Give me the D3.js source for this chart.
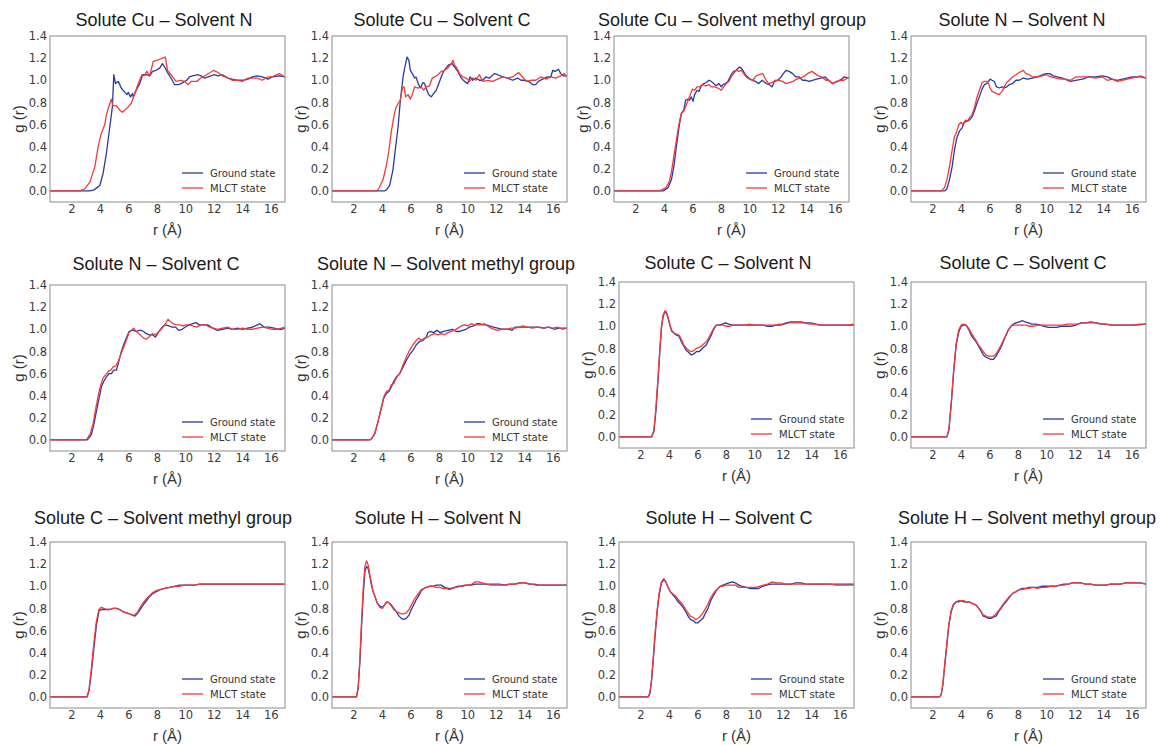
<!DOCTYPE html>
<html>
<head>
<meta charset="utf-8">
<script src="https://cdn.jsdelivr.net/npm/d3@7"></script>
<style>
  body { margin: 0; background: #ffffff; }
  svg { display: block; }
</style>
</head>
<body>
<svg id="fig" width="1162" height="745"></svg>
<script>
// ---- Radial distribution functions g(r), r in Å: [r, g] pairs ----

// Solute Cu – Solvent N
const cuN_ground = [[0.5,0],[3.3,0],[3.6,0.01],[3.8,0.03],[4.0,0.05],[4.23,0.16],[4.46,0.34],[4.7,0.58],[4.88,0.76],[4.98,1.05],[5.1,0.97],[5.3,0.99],[5.5,0.93],[5.7,0.9],[5.9,0.87],[6.0,0.89],[6.15,0.85],[6.3,0.88],[6.35,0.85],[6.55,0.91],[6.8,0.97],[7.0,1.05],[7.3,1.05],[7.5,1.04],[7.7,1.08],[7.95,1.09],[8.2,1.11],[8.4,1.15],[8.55,1.12],[8.8,1.06],[9.0,1.02],[9.25,0.96],[9.5,0.96],[9.7,0.97],[10.1,1.0],[10.3,1.03],[10.5,1.04],[10.9,1.05],[11.1,1.04],[11.35,1.02],[11.6,1.03],[12.0,1.05],[12.3,1.04],[12.6,1.05],[13.0,1.02],[13.3,1.01],[13.7,1.0],[14.0,1.0],[14.4,1.01],[14.7,1.03],[15.05,1.04],[15.4,1.03],[15.8,1.01],[16.1,1.03],[16.6,1.04],[17.0,1.03]];
const cuN_mlct = [[0.5,0],[2.6,0],[2.95,0.02],[3.3,0.08],[3.65,0.22],[3.88,0.4],[4.1,0.52],[4.35,0.6],[4.46,0.69],[4.65,0.77],[4.8,0.83],[4.92,0.77],[5.15,0.77],[5.4,0.73],[5.6,0.71],[5.75,0.73],[6.0,0.76],[6.2,0.79],[6.45,0.88],[6.7,0.97],[6.95,1.05],[7.1,1.04],[7.3,1.08],[7.5,1.04],[7.75,1.17],[8.0,1.18],[8.2,1.19],[8.4,1.2],[8.6,1.21],[8.75,1.09],[9.0,1.05],[9.35,0.99],[9.7,1.0],[9.95,0.99],[10.2,0.96],[10.4,0.99],[10.8,0.99],[11.1,1.02],[11.5,1.05],[12.0,1.09],[12.3,1.07],[12.6,1.04],[13.0,1.02],[13.3,1.0],[13.7,1.0],[14.0,0.99],[14.4,1.02],[14.7,1.02],[15.05,1.02],[15.4,1.0],[15.8,1.03],[16.1,1.03],[16.6,1.06],[17.0,1.03]];

// Solute Cu – Solvent C
const cuC_ground = [[0.5,0],[4.2,0],[4.32,0.01],[4.55,0.05],[4.78,0.19],[4.97,0.4],[5.14,0.58],[5.3,0.82],[5.49,1.03],[5.6,1.11],[5.77,1.21],[5.9,1.18],[6.0,1.09],[6.14,1.06],[6.3,1.02],[6.4,1.03],[6.58,0.96],[6.72,0.93],[6.88,0.98],[7.0,0.97],[7.1,0.93],[7.3,0.87],[7.47,0.85],[7.63,0.88],[7.82,0.91],[8.0,0.97],[8.17,1.03],[8.33,1.08],[8.5,1.11],[8.7,1.14],[8.94,1.15],[9.1,1.12],[9.33,1.08],[9.57,1.02],[9.8,0.99],[10.03,0.97],[10.2,1.03],[10.38,1.0],[10.6,1.02],[10.85,1.0],[11.08,1.0],[11.3,1.03],[11.55,1.02],[11.9,1.06],[12.13,1.05],[12.5,1.03],[12.83,1.02],[13.18,1.0],[13.53,1.02],[13.77,1.0],[14.0,1.0],[14.3,0.99],[14.6,0.96],[14.8,0.96],[15.0,0.99],[15.28,1.01],[15.63,1.03],[15.86,1.03],[16.0,1.09],[16.17,1.08],[16.4,1.1],[16.56,1.06],[16.73,1.04],[17.0,1.04]];
const cuC_mlct = [[0.5,0],[3.67,0],[3.86,0.04],[4.1,0.11],[4.32,0.23],[4.5,0.37],[4.67,0.54],[4.84,0.67],[4.98,0.75],[5.14,0.79],[5.3,0.82],[5.44,0.93],[5.56,0.94],[5.67,0.85],[5.84,0.87],[6.0,0.83],[6.14,0.87],[6.3,0.94],[6.54,0.93],[6.77,0.94],[6.93,0.91],[7.12,0.94],[7.35,0.95],[7.54,1.02],[7.7,1.03],[7.94,1.05],[8.17,1.08],[8.4,1.09],[8.64,1.11],[8.87,1.15],[9.0,1.18],[9.1,1.14],[9.27,1.11],[9.45,1.06],[9.68,1.03],[9.92,1.02],[10.15,0.99],[10.38,1.02],[10.6,1.0],[10.85,1.05],[11.08,0.99],[11.43,1.0],[11.78,0.99],[12.13,1.01],[12.5,1.03],[12.83,1.02],[13.18,1.03],[13.6,1.07],[13.88,1.03],[14.16,0.99],[14.46,1.0],[14.8,1.0],[15.17,1.03],[15.52,1.01],[15.86,1.03],[16.2,1.02],[16.56,1.04],[16.8,1.06],[17.0,1.03]];

// Solute Cu – Solvent methyl group
const cuMe_ground = [[0.5,0],[3.95,0],[4.3,0.03],[4.53,0.1],[4.7,0.22],[4.88,0.4],[5.07,0.58],[5.23,0.7],[5.4,0.73],[5.53,0.82],[5.7,0.83],[5.81,0.82],[5.93,0.85],[6.05,0.81],[6.16,0.87],[6.33,0.91],[6.47,0.9],[6.63,0.95],[6.8,0.97],[6.98,0.98],[7.17,1.0],[7.33,0.99],[7.5,0.97],[7.68,0.95],[7.87,0.97],[8.03,0.94],[8.15,0.96],[8.33,0.97],[8.5,0.99],[8.73,1.05],[8.9,1.08],[9.08,1.09],[9.31,1.12],[9.43,1.11],[9.55,1.09],[9.73,1.05],[9.96,1.02],[10.2,1.0],[10.43,0.99],[10.66,0.97],[10.9,1.0],[11.18,0.97],[11.41,0.96],[11.6,0.94],[11.76,0.99],[12.0,1.0],[12.23,1.03],[12.39,1.06],[12.57,1.09],[12.8,1.08],[13.04,1.06],[13.27,1.03],[13.5,1.03],[13.74,1.0],[13.97,1.0],[14.2,0.99],[14.44,1.0],[14.72,1.01],[15.02,1.02],[15.32,1.03],[15.56,1.0],[15.84,0.97],[16.19,0.99],[16.49,1.01],[16.65,1.03],[17.0,1.02]];
const cuMe_mlct = [[0.5,0],[3.72,0],[4.14,0.03],[4.37,0.08],[4.53,0.17],[4.7,0.31],[4.88,0.46],[5.07,0.61],[5.23,0.7],[5.4,0.72],[5.53,0.76],[5.7,0.82],[5.86,0.87],[6.0,0.92],[6.16,0.91],[6.33,0.94],[6.51,0.94],[6.7,0.96],[6.93,0.95],[7.17,0.96],[7.33,0.94],[7.56,0.94],[7.8,0.93],[8.03,0.91],[8.2,0.94],[8.38,0.97],[8.57,0.99],[8.73,1.03],[8.9,1.06],[9.08,1.09],[9.27,1.08],[9.43,1.09],[9.6,1.06],[9.78,1.03],[10.01,1.01],[10.24,1.0],[10.48,1.04],[10.71,1.05],[10.94,1.06],[11.18,1.0],[11.36,0.97],[11.6,0.98],[11.83,1.0],[12.07,1.0],[12.34,0.99],[12.57,0.97],[12.85,0.98],[13.08,0.99],[13.32,1.01],[13.55,1.02],[13.79,1.03],[14.09,1.06],[14.39,1.08],[14.62,1.06],[14.86,1.04],[15.09,1.03],[15.37,1.0],[15.6,1.0],[15.84,0.97],[16.12,0.99],[16.42,1.0],[16.65,1.0],[17.0,1.03]];

// Solute N – Solvent N
const nN_ground = [[0.5,0],[2.85,0],[3.02,0.02],[3.2,0.1],[3.39,0.22],[3.55,0.37],[3.72,0.48],[3.9,0.54],[4.09,0.57],[4.25,0.62],[4.42,0.63],[4.6,0.64],[4.79,0.67],[4.95,0.72],[5.12,0.79],[5.3,0.85],[5.49,0.92],[5.65,0.96],[5.81,0.97],[5.95,0.99],[6.05,1.01],[6.19,1.0],[6.35,0.99],[6.51,0.94],[6.7,0.93],[6.89,0.94],[7.05,0.93],[7.21,0.94],[7.4,0.96],[7.63,0.97],[7.87,1.0],[8.1,1.0],[8.38,1.02],[8.68,1.01],[9.03,1.02],[9.38,1.03],[9.73,1.05],[10.01,1.06],[10.24,1.06],[10.48,1.04],[10.78,1.03],[11.13,1.02],[11.48,1.0],[11.71,0.99],[12.06,1.0],[12.53,1.01],[13.0,1.03],[13.46,1.03],[13.93,1.04],[14.28,1.03],[14.63,1.01],[14.98,1.0],[15.33,1.01],[15.68,1.02],[16.03,1.03],[16.38,1.03],[16.61,1.03],[17.0,1.02]];
const nN_mlct = [[0.5,0],[2.62,0],[2.85,0.03],[3.02,0.1],[3.2,0.22],[3.39,0.37],[3.55,0.49],[3.72,0.54],[3.86,0.6],[4.02,0.62],[4.14,0.6],[4.32,0.64],[4.49,0.63],[4.6,0.66],[4.79,0.69],[4.95,0.75],[5.12,0.84],[5.3,0.91],[5.49,0.98],[5.65,0.99],[5.81,0.99],[5.95,0.97],[6.05,0.93],[6.19,0.9],[6.35,0.89],[6.51,0.88],[6.7,0.87],[6.89,0.9],[7.05,0.94],[7.21,0.98],[7.4,1.0],[7.63,1.03],[7.87,1.05],[8.1,1.07],[8.38,1.09],[8.57,1.06],[8.8,1.05],[9.03,1.03],[9.38,1.03],[9.73,1.04],[10.01,1.05],[10.31,1.03],[10.66,1.02],[11.01,1.01],[11.36,1.01],[11.71,1.0],[12.06,1.03],[12.53,1.03],[13.0,1.03],[13.46,1.02],[13.93,1.03],[14.28,1.0],[14.63,1.01],[14.98,0.99],[15.33,1.0],[15.68,1.01],[16.03,1.02],[16.38,1.03],[16.61,1.04],[17.0,1.02]];

// Solute N – Solvent C
const nC_ground = [[0.5,0],[3.1,0],[3.18,0.01],[3.41,0.05],[3.58,0.14],[3.76,0.26],[3.95,0.38],[4.11,0.48],[4.28,0.53],[4.46,0.57],[4.65,0.6],[4.81,0.6],[4.98,0.63],[5.16,0.63],[5.35,0.72],[5.51,0.8],[5.67,0.86],[5.86,0.92],[6.05,0.98],[6.21,0.99],[6.37,0.99],[6.56,0.98],[6.75,0.99],[6.91,0.99],[7.07,0.98],[7.26,0.96],[7.45,0.95],[7.68,0.95],[7.91,0.93],[8.15,0.98],[8.38,1.02],[8.61,1.04],[8.85,1.03],[9.08,1.02],[9.31,1.02],[9.54,0.99],[9.78,1.0],[10.01,1.02],[10.29,1.04],[10.52,1.05],[10.76,1.06],[10.99,1.04],[11.27,1.04],[11.57,1.04],[11.92,1.01],[12.27,0.99],[12.62,1.0],[12.97,1.01],[13.32,1.0],[13.67,1.01],[14.02,1.0],[14.37,1.01],[14.72,1.02],[15.07,1.04],[15.23,1.05],[15.53,1.02],[15.88,1.02],[16.23,1.01],[16.58,1.0],[16.77,1.0],[17.0,1.01]];
const nC_mlct = [[0.5,0],[3.0,0],[3.11,0.01],[3.34,0.06],[3.53,0.15],[3.72,0.29],[3.9,0.41],[4.07,0.5],[4.23,0.56],[4.42,0.59],[4.6,0.62],[4.77,0.63],[4.93,0.66],[5.12,0.67],[5.3,0.71],[5.49,0.78],[5.67,0.84],[5.86,0.9],[6.05,0.97],[6.21,0.99],[6.37,1.01],[6.56,0.98],[6.75,0.96],[6.91,0.94],[7.07,0.92],[7.26,0.91],[7.45,0.93],[7.68,0.96],[7.91,0.95],[8.15,0.98],[8.38,1.01],[8.61,1.05],[8.78,1.09],[8.94,1.07],[9.13,1.05],[9.36,1.04],[9.59,1.04],[9.83,1.03],[10.06,1.04],[10.29,1.04],[10.52,1.03],[10.8,1.02],[11.11,1.04],[11.41,1.04],[11.69,1.02],[11.97,1.01],[12.27,1.0],[12.62,1.01],[12.97,1.02],[13.32,1.0],[13.67,1.0],[14.02,1.01],[14.37,1.0],[14.72,1.0],[15.07,1.01],[15.42,1.02],[15.77,1.01],[16.11,1.0],[16.46,1.0],[17.0,1.02]];

// Solute N – Solvent methyl group
const nMe_ground = [[0.5,0],[3.15,0],[3.27,0.01],[3.51,0.06],[3.74,0.17],[3.97,0.29],[4.14,0.38],[4.32,0.42],[4.51,0.44],[4.67,0.48],[4.84,0.53],[5.02,0.57],[5.26,0.6],[5.49,0.66],[5.72,0.72],[5.95,0.77],[6.19,0.81],[6.42,0.86],[6.65,0.89],[6.89,0.9],[7.12,0.93],[7.24,0.97],[7.4,0.98],[7.63,0.97],[7.87,0.99],[8.1,0.97],[8.33,0.98],[8.64,0.99],[8.94,1.0],[9.22,0.98],[9.45,0.98],[9.68,0.99],[9.92,1.0],[10.15,1.02],[10.43,1.03],[10.66,1.05],[10.9,1.05],[11.08,1.04],[11.32,1.04],[11.55,1.03],[11.83,1.02],[12.13,1.01],[12.44,1.0],[12.72,1.0],[12.95,1.0],[13.14,0.99],[13.37,1.02],[13.65,1.02],[14.0,1.02],[14.35,1.02],[14.7,1.02],[15.05,1.02],[15.39,1.01],[15.74,1.02],[16.09,1.0],[16.44,1.01],[17.0,1.01]];
const nMe_mlct = [[0.5,0],[3.15,0],[3.27,0.01],[3.51,0.06],[3.74,0.17],[3.97,0.3],[4.14,0.39],[4.32,0.44],[4.51,0.45],[4.67,0.5],[4.84,0.51],[5.02,0.56],[5.26,0.6],[5.49,0.68],[5.72,0.75],[5.95,0.81],[6.19,0.86],[6.42,0.9],[6.61,0.92],[6.77,0.9],[7.0,0.92],[7.24,0.93],[7.47,0.95],[7.7,0.96],[7.94,0.95],[8.17,0.96],[8.4,0.95],[8.64,0.97],[8.87,0.98],[9.1,0.99],[9.34,1.01],[9.57,1.03],[9.8,1.04],[10.03,1.03],[10.27,1.05],[10.5,1.04],[10.73,1.04],[10.97,1.04],[11.2,1.05],[11.43,1.03],[11.67,1.01],[11.9,1.0],[12.13,0.99],[12.37,1.0],[12.6,1.0],[12.83,1.0],[13.07,1.01],[13.37,1.01],[13.65,1.02],[13.88,1.03],[14.23,1.02],[14.58,1.01],[14.93,1.02],[15.28,1.01],[15.63,1.02],[15.98,1.01],[16.33,1.02],[16.68,1.0],[17.0,1.01]];

// Solute C – Solvent N
const cN_ground = [[0.5,0],[2.78,0],[2.95,0.05],[3.09,0.23],[3.25,0.53],[3.37,0.77],[3.48,0.98],[3.6,1.09],[3.72,1.13],[3.83,1.12],[3.95,1.07],[4.07,1.01],[4.18,0.96],[4.35,0.94],[4.53,0.92],[4.72,0.91],[4.88,0.86],[5.05,0.82],[5.23,0.78],[5.42,0.76],[5.58,0.74],[5.74,0.75],[5.93,0.77],[6.12,0.77],[6.28,0.79],[6.44,0.81],[6.63,0.83],[6.82,0.88],[6.98,0.92],[7.14,0.97],[7.33,1.01],[7.52,1.01],[7.75,1.02],[7.98,1.03],[8.22,1.02],[8.5,1.01],[8.84,1.01],[9.19,1.01],[9.54,1.01],[9.89,1.01],[10.24,1.01],[10.59,1.01],[10.94,1.0],[11.25,1.0],[11.52,1.01],[11.87,1.01],[12.22,1.03],[12.57,1.04],[12.92,1.04],[13.27,1.04],[13.62,1.03],[13.97,1.03],[14.32,1.02],[14.67,1.01],[15.02,1.01],[15.49,1.01],[15.95,1.01],[16.42,1.01],[17.0,1.01]];
const cN_mlct = [[0.5,0],[2.78,0],[2.95,0.06],[3.09,0.26],[3.25,0.56],[3.37,0.8],[3.48,1.0],[3.6,1.1],[3.72,1.14],[3.83,1.13],[3.95,1.08],[4.07,1.02],[4.18,0.97],[4.35,0.94],[4.53,0.93],[4.72,0.92],[4.88,0.88],[5.05,0.83],[5.23,0.8],[5.42,0.78],[5.58,0.77],[5.74,0.78],[5.93,0.8],[6.12,0.81],[6.28,0.82],[6.44,0.84],[6.63,0.86],[6.82,0.9],[6.98,0.94],[7.14,0.98],[7.33,1.01],[7.56,1.01],[7.8,1.01],[8.03,1.0],[8.26,1.0],[8.54,1.01],[8.91,1.01],[9.31,1.01],[9.66,1.02],[10.01,1.01],[10.36,1.01],[10.71,1.01],[11.06,1.01],[11.41,1.01],[11.76,1.02],[12.1,1.02],[12.45,1.03],[12.8,1.03],[13.15,1.03],[13.5,1.03],[13.85,1.02],[14.2,1.02],[14.55,1.01],[15.02,1.01],[15.49,1.01],[15.95,1.01],[16.42,1.01],[17.0,1.02]];

// Solute C – Solvent C
const cC_ground = [[0.5,0],[3.02,0],[3.16,0.06],[3.32,0.29],[3.48,0.56],[3.67,0.83],[3.86,0.95],[4.02,1.0],[4.18,1.01],[4.37,1.01],[4.56,0.97],[4.72,0.92],[4.88,0.89],[5.07,0.86],[5.25,0.82],[5.42,0.78],[5.58,0.74],[5.77,0.72],[5.95,0.71],[6.12,0.7],[6.28,0.7],[6.47,0.73],[6.65,0.77],[6.82,0.81],[6.98,0.86],[7.17,0.92],[7.35,0.97],[7.52,1.0],[7.68,1.02],[7.87,1.03],[8.1,1.04],[8.33,1.05],[8.52,1.04],[8.75,1.03],[8.98,1.02],[9.27,1.02],[9.55,1.01],[9.85,1.0],[10.15,0.99],[10.44,0.99],[10.72,0.99],[11.01,1.0],[11.37,1.0],[11.72,1.0],[12.06,1.01],[12.42,1.03],[12.77,1.03],[13.12,1.04],[13.47,1.03],[13.82,1.02],[14.16,1.02],[14.52,1.01],[14.86,1.01],[15.33,1.01],[15.8,1.01],[16.26,1.01],[17.0,1.02]];
const cC_mlct = [[0.5,0],[3.02,0],[3.16,0.07],[3.32,0.3],[3.48,0.58],[3.67,0.84],[3.86,0.97],[4.02,1.01],[4.18,1.02],[4.37,1.01],[4.56,0.98],[4.72,0.94],[4.88,0.91],[5.07,0.87],[5.25,0.83],[5.42,0.8],[5.58,0.77],[5.77,0.74],[5.95,0.73],[6.12,0.73],[6.28,0.73],[6.47,0.75],[6.65,0.79],[6.82,0.83],[6.98,0.87],[7.17,0.92],[7.35,0.97],[7.52,1.0],[7.68,1.01],[7.87,1.01],[8.1,1.01],[8.33,1.01],[8.57,1.01],[8.8,1.0],[9.08,1.0],[9.38,1.01],[9.73,1.01],[10.08,1.01],[10.44,1.01],[10.79,1.01],[11.13,1.01],[11.48,1.02],[11.84,1.02],[12.19,1.02],[12.54,1.03],[12.89,1.03],[13.24,1.03],[13.59,1.03],[13.93,1.02],[14.28,1.02],[14.63,1.01],[15.1,1.01],[15.56,1.01],[16.03,1.01],[16.5,1.02],[17.0,1.02]];

// Solute C – Solvent methyl group
const cMe_ground = [[0.5,0],[3.11,0],[3.25,0.06],[3.41,0.23],[3.58,0.44],[3.76,0.65],[3.95,0.78],[4.11,0.79],[4.28,0.79],[4.46,0.79],[4.7,0.79],[4.93,0.8],[5.16,0.8],[5.4,0.79],[5.63,0.77],[5.86,0.76],[6.09,0.75],[6.28,0.74],[6.44,0.73],[6.61,0.75],[6.79,0.78],[6.98,0.82],[7.21,0.86],[7.45,0.9],[7.68,0.93],[7.96,0.95],[8.24,0.97],[8.54,0.98],[8.89,0.99],[9.24,1.0],[9.59,1.01],[9.94,1.01],[10.29,1.01],[10.64,1.01],[10.99,1.02],[11.46,1.02],[11.92,1.02],[12.39,1.02],[12.85,1.02],[13.32,1.02],[13.79,1.02],[14.25,1.02],[14.72,1.02],[15.19,1.02],[15.65,1.02],[16.12,1.02],[16.58,1.02],[17.0,1.02]];
const cMe_mlct = [[0.5,0],[3.09,0],[3.23,0.06],[3.39,0.24],[3.56,0.46],[3.74,0.67],[3.93,0.79],[4.11,0.81],[4.28,0.8],[4.46,0.79],[4.7,0.79],[4.93,0.8],[5.16,0.8],[5.4,0.79],[5.63,0.77],[5.86,0.76],[6.09,0.75],[6.28,0.74],[6.44,0.74],[6.61,0.76],[6.79,0.8],[6.98,0.84],[7.21,0.88],[7.45,0.91],[7.68,0.94],[7.96,0.96],[8.24,0.97],[8.54,0.98],[8.89,0.99],[9.24,1.0],[9.59,1.0],[9.94,1.01],[10.29,1.01],[10.64,1.01],[10.99,1.02],[11.46,1.02],[11.92,1.02],[12.39,1.02],[12.85,1.02],[13.32,1.02],[13.79,1.02],[14.25,1.02],[14.72,1.02],[15.19,1.02],[15.65,1.02],[16.12,1.02],[16.58,1.02],[17.0,1.02]];

// Solute H – Solvent N
const hN_ground = [[0.5,0],[2.22,0],[2.34,0.08],[2.46,0.32],[2.57,0.62],[2.69,0.92],[2.81,1.13],[2.92,1.18],[3.04,1.16],[3.16,1.09],[3.27,1.01],[3.39,0.95],[3.51,0.91],[3.67,0.85],[3.86,0.82],[4.04,0.81],[4.18,0.83],[4.37,0.86],[4.51,0.85],[4.67,0.83],[4.84,0.8],[5.02,0.77],[5.21,0.73],[5.37,0.71],[5.53,0.7],[5.72,0.71],[5.91,0.74],[6.07,0.79],[6.23,0.83],[6.42,0.88],[6.61,0.92],[6.77,0.96],[6.93,0.98],[7.12,0.99],[7.35,1.0],[7.59,1.0],[7.82,1.01],[8.01,1.01],[8.17,1.01],[8.4,0.99],[8.64,0.98],[8.87,0.98],[9.1,0.99],[9.33,1.0],[9.64,1.0],[9.92,1.01],[10.27,1.01],[10.57,1.02],[10.85,1.02],[11.2,1.02],[11.55,1.02],[11.9,1.02],[12.25,1.02],[12.6,1.01],[12.95,1.02],[13.3,1.02],[13.65,1.03],[14.0,1.03],[14.35,1.02],[14.7,1.02],[15.05,1.01],[15.4,1.01],[15.74,1.01],[16.21,1.01],[17.0,1.01]];
const hN_mlct = [[0.5,0],[2.22,0],[2.34,0.09],[2.46,0.35],[2.57,0.67],[2.69,0.98],[2.81,1.18],[2.92,1.23],[3.04,1.19],[3.16,1.1],[3.27,1.03],[3.39,0.95],[3.51,0.91],[3.67,0.85],[3.86,0.81],[4.04,0.8],[4.18,0.83],[4.37,0.86],[4.51,0.85],[4.67,0.82],[4.84,0.79],[5.02,0.77],[5.21,0.76],[5.37,0.75],[5.53,0.75],[5.72,0.76],[5.91,0.79],[6.07,0.83],[6.23,0.87],[6.42,0.91],[6.61,0.94],[6.77,0.97],[6.93,0.98],[7.12,0.99],[7.35,1.0],[7.59,1.0],[7.82,0.99],[8.05,0.99],[8.29,0.98],[8.52,0.98],[8.75,0.97],[8.99,0.98],[9.22,0.99],[9.5,1.0],[9.8,1.01],[10.1,1.01],[10.34,1.02],[10.57,1.04],[10.8,1.04],[11.04,1.03],[11.32,1.02],[11.67,1.01],[12.02,1.01],[12.37,1.01],[12.72,1.01],[13.07,1.02],[13.42,1.02],[13.77,1.03],[14.12,1.03],[14.47,1.02],[14.82,1.01],[15.17,1.01],[15.52,1.01],[15.86,1.01],[16.21,1.01],[17.0,1.01]];

// Solute H – Solvent C
const hC_ground = [[0.5,0],[2.55,0],[2.67,0.03],[2.78,0.14],[2.9,0.32],[3.02,0.53],[3.18,0.77],[3.32,0.92],[3.48,1.03],[3.65,1.06],[3.79,1.04],[3.95,0.99],[4.11,0.95],[4.3,0.92],[4.49,0.89],[4.65,0.86],[4.81,0.84],[5.0,0.81],[5.19,0.77],[5.35,0.73],[5.51,0.7],[5.7,0.69],[5.88,0.67],[6.05,0.67],[6.21,0.69],[6.4,0.71],[6.58,0.76],[6.75,0.8],[6.91,0.86],[7.1,0.91],[7.28,0.95],[7.45,0.98],[7.61,1.0],[7.8,1.01],[7.98,1.02],[8.22,1.03],[8.45,1.04],[8.68,1.03],[8.92,1.01],[9.15,1.0],[9.43,0.99],[9.71,0.98],[10.01,0.98],[10.31,0.98],[10.59,1.0],[10.87,1.01],[11.18,1.02],[11.53,1.02],[11.88,1.02],[12.22,1.02],[12.57,1.02],[12.92,1.03],[13.27,1.03],[13.62,1.02],[13.97,1.02],[14.32,1.02],[14.67,1.02],[15.14,1.02],[15.61,1.02],[16.07,1.02],[16.54,1.02],[17.0,1.02]];
const hC_mlct = [[0.5,0],[2.55,0],[2.67,0.04],[2.78,0.15],[2.9,0.35],[3.02,0.56],[3.18,0.79],[3.32,0.94],[3.48,1.04],[3.65,1.07],[3.79,1.04],[3.95,0.99],[4.11,0.95],[4.3,0.93],[4.49,0.91],[4.65,0.88],[4.81,0.86],[5.0,0.83],[5.19,0.79],[5.35,0.76],[5.51,0.73],[5.7,0.72],[5.88,0.7],[6.05,0.71],[6.21,0.73],[6.4,0.76],[6.58,0.8],[6.75,0.84],[6.91,0.89],[7.1,0.93],[7.28,0.96],[7.45,0.98],[7.61,1.0],[7.8,1.0],[7.98,1.01],[8.22,1.01],[8.45,1.01],[8.68,1.01],[8.92,0.99],[9.2,0.99],[9.48,0.99],[9.78,0.99],[10.08,0.99],[10.36,1.0],[10.64,1.01],[10.94,1.02],[11.25,1.04],[11.53,1.03],[11.88,1.03],[12.22,1.02],[12.57,1.02],[12.92,1.02],[13.27,1.02],[13.62,1.02],[13.97,1.02],[14.32,1.02],[14.79,1.02],[15.26,1.02],[15.72,1.01],[16.19,1.01],[17.0,1.01]];

// Solute H – Solvent methyl group
const hMe_ground = [[0.5,0],[2.5,0],[2.62,0.02],[2.74,0.11],[2.85,0.26],[3.02,0.47],[3.16,0.65],[3.32,0.77],[3.48,0.83],[3.67,0.86],[3.86,0.86],[4.02,0.87],[4.18,0.86],[4.37,0.86],[4.56,0.86],[4.72,0.85],[4.88,0.84],[5.07,0.83],[5.25,0.8],[5.42,0.77],[5.58,0.73],[5.77,0.72],[5.95,0.71],[6.12,0.71],[6.28,0.72],[6.47,0.73],[6.65,0.77],[6.82,0.8],[6.98,0.83],[7.17,0.86],[7.35,0.89],[7.52,0.92],[7.68,0.94],[7.87,0.95],[8.1,0.97],[8.33,0.98],[8.57,0.98],[8.8,0.99],[9.08,0.99],[9.38,0.99],[9.68,1.0],[9.96,1.0],[10.31,1.0],[10.66,1.0],[10.94,1.01],[11.25,1.02],[11.55,1.02],[11.83,1.03],[12.11,1.03],[12.41,1.03],[12.76,1.02],[13.11,1.02],[13.46,1.01],[13.81,1.01],[14.16,1.01],[14.51,1.02],[14.86,1.02],[15.21,1.02],[15.56,1.03],[15.91,1.03],[16.26,1.03],[16.61,1.03],[17.0,1.02]];
const hMe_mlct = [[0.5,0],[2.5,0],[2.62,0.02],[2.74,0.12],[2.85,0.27],[3.02,0.49],[3.16,0.66],[3.32,0.78],[3.48,0.84],[3.67,0.86],[3.86,0.87],[4.02,0.87],[4.18,0.87],[4.37,0.86],[4.56,0.86],[4.72,0.85],[4.88,0.84],[5.07,0.83],[5.25,0.8],[5.42,0.77],[5.58,0.74],[5.77,0.73],[5.95,0.72],[6.12,0.72],[6.28,0.73],[6.47,0.75],[6.65,0.78],[6.82,0.81],[6.98,0.84],[7.17,0.87],[7.35,0.9],[7.52,0.92],[7.68,0.94],[7.87,0.95],[8.1,0.97],[8.33,0.97],[8.57,0.98],[8.8,0.98],[9.08,0.99],[9.38,0.98],[9.68,0.99],[9.96,0.99],[10.31,1.0],[10.66,1.0],[10.94,1.01],[11.25,1.01],[11.55,1.02],[11.83,1.03],[12.11,1.03],[12.41,1.03],[12.76,1.02],[13.11,1.02],[13.46,1.01],[13.81,1.01],[14.16,1.01],[14.51,1.02],[14.86,1.02],[15.21,1.02],[15.56,1.03],[15.91,1.03],[16.26,1.03],[16.61,1.03],[17.0,1.02]];

// Panel titles, in reading order
const titles = [
  "Solute Cu \u2013 Solvent N", "Solute Cu \u2013 Solvent C", "Solute Cu \u2013 Solvent methyl group", "Solute N \u2013 Solvent N",
  "Solute N \u2013 Solvent C", "Solute N \u2013 Solvent methyl group", "Solute C \u2013 Solvent N", "Solute C \u2013 Solvent C",
  "Solute C \u2013 Solvent methyl group", "Solute H \u2013 Solvent N", "Solute H \u2013 Solvent C", "Solute H \u2013 Solvent methyl group"
];
const groundSeries = [cuN_ground, cuC_ground, cuMe_ground, nN_ground, nC_ground, nMe_ground, cN_ground, cC_ground, cMe_ground, hN_ground, hC_ground, hMe_ground];
const mlctSeries   = [cuN_mlct, cuC_mlct, cuMe_mlct, nN_mlct, nC_mlct, nMe_mlct, cN_mlct, cC_mlct, cMe_mlct, hN_mlct, hC_mlct, hMe_mlct];
const seriesNames = ["Ground state", "MLCT state"];

const xTicks = [2, 4, 6, 8, 10, 12, 14, 16];
const yTicks = [0.0, 0.2, 0.4, 0.6, 0.8, 1.0, 1.2, 1.4];
const xDomain = [0.5, 17];
const yDomain = [-0.1, 1.4];
const xLabel = "r (\u00c5)";
const yLabel = "g (r)";

// ---- Layout ----
const colors = ["#2b3a9e", "#f23a3a"];
const plotW = 235, plotH = 166;
const axesBoxes = [
  [50, 36], [332, 36], [614, 36], [911, 36],
  [50, 285], [332, 285], [619, 282], [911, 282],
  [50, 542], [332, 542], [619, 542], [911, 542]
];
const titleCenters = [164, 442, 732, 1022, 156, 446, 728, 1023, 163, 438, 729, 1027];
const titleBaselines = [26, 26, 26, 26, 270, 270, 269, 269, 524, 524, 524, 524];

const svg = d3.select("#fig");
const fontMain = "'Liberation Sans', Arial, sans-serif";
const fontTick = "'DejaVu Sans', sans-serif";

titles.forEach((title, i) => {
  const [left, top] = axesBoxes[i];
  const x = d3.scaleLinear().domain(xDomain).range([left, left + plotW]);
  const y = d3.scaleLinear().domain(yDomain).range([top + plotH, top]);
  const g = svg.append("g");

  const clipId = "clip" + i;
  g.append("clipPath").attr("id", clipId)
    .append("rect").attr("x", left).attr("y", top).attr("width", plotW).attr("height", plotH);

  // x axis
  const xAxis = g.append("g")
    .attr("transform", `translate(0,${top + plotH})`)
    .call(d3.axisBottom(x).tickValues(xTicks).tickSize(0).tickPadding(3).tickFormat(d3.format("d")));
  // y axis
  const yAxis = g.append("g")
    .attr("transform", `translate(${left},0)`)
    .call(d3.axisLeft(y).tickValues(yTicks).tickSize(0).tickPadding(3).tickFormat(d3.format(".1f")));
  [xAxis, yAxis].forEach(ax => {
    ax.select(".domain").remove();
    ax.selectAll("text").attr("fill", "#3a3a3a")
      .style("font-family", fontTick).style("font-size", "11.5px");
  });

  // curves
  const line = d3.line().x(d => x(d[0])).y(d => y(d[1]));
  [groundSeries[i], mlctSeries[i]].forEach((data, k) => {
    g.append("path").datum(data)
      .attr("clip-path", `url(#${clipId})`)
      .attr("fill", "none").attr("stroke", colors[k])
      .attr("stroke-width", 1.3).attr("stroke-linejoin", "round")
      .attr("d", line);
  });

  // frame
  g.append("rect").attr("x", left).attr("y", top).attr("width", plotW).attr("height", plotH)
    .attr("fill", "none").attr("stroke", "#8c8c8c").attr("stroke-width", 1);

  // legend
  const right = left + plotW, bottom = top + plotH;
  seriesNames.forEach((name, k) => {
    const ly = bottom - 29 + k * 15;
    g.append("line").attr("x1", right - 103).attr("x2", right - 82)
      .attr("y1", ly).attr("y2", ly).attr("stroke", colors[k]).attr("stroke-width", 1.3);
    g.append("text").attr("x", right - 75).attr("y", ly).attr("dy", "0.35em")
      .attr("fill", "#333").style("font-family", fontTick).style("font-size", "10px").text(name);
  });

  // axis labels
  g.append("text").attr("x", left + plotW / 2).attr("y", bottom + 33)
    .attr("text-anchor", "middle").attr("fill", "#333")
    .style("font-family", fontMain).style("font-size", "15px").text(xLabel);
  g.append("text")
    .attr("transform", `translate(${left - 26},${top + plotH / 2}) rotate(-90)`)
    .attr("text-anchor", "middle").attr("fill", "#333")
    .style("font-family", fontMain).style("font-size", "15px").text(yLabel);

  // title
  g.append("text").attr("x", titleCenters[i]).attr("y", titleBaselines[i])
    .attr("text-anchor", "middle").attr("fill", "#1a1a1a")
    .style("font-family", fontMain).style("font-size", "18px").text(title);
});
</script>
</body>
</html>
